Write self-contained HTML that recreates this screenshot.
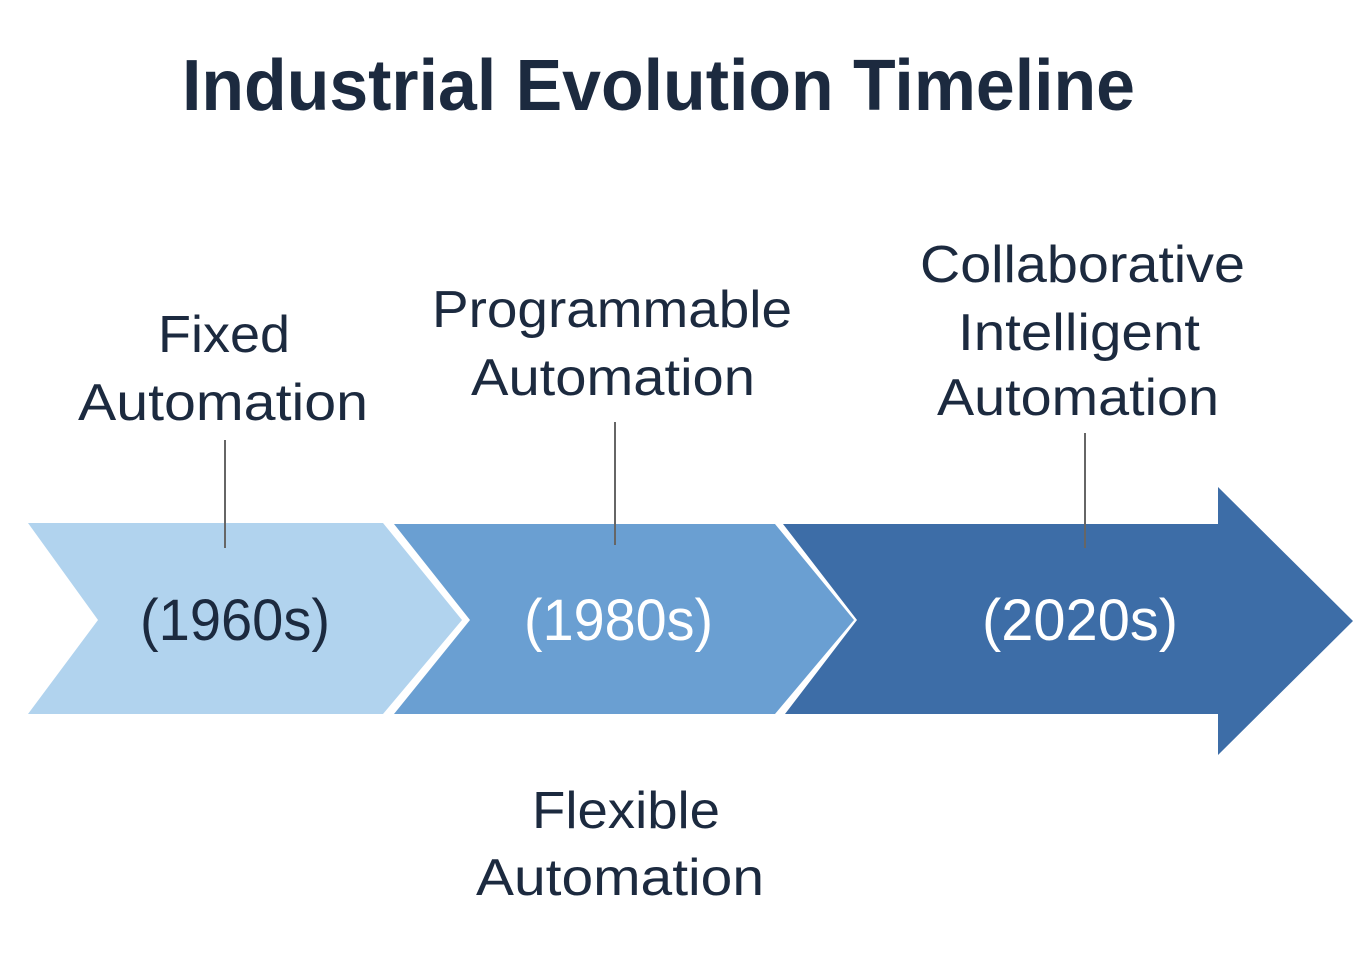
<!DOCTYPE html>
<html><head><meta charset="utf-8"><style>html,body{margin:0;padding:0;background:#fff}svg{display:block}</style></head>
<body>
<svg width="1370" height="968" viewBox="0 0 1370 968" xmlns="http://www.w3.org/2000/svg" font-family="Liberation Sans, DejaVu Sans, sans-serif">
<rect width="1370" height="968" fill="#fff"/>
<text x="182" y="110" font-size="72" font-weight="bold" fill="#1c2a3f" textLength="953" lengthAdjust="spacingAndGlyphs">Industrial Evolution Timeline</text>
<polygon points="28,523 383,523 462,620 383,714 28,714 98,620" fill="#b1d3ee"/>
<polygon points="394,524 775,524 854,620 775,714 394,714 470,620" fill="#6a9fd2"/>
<polygon points="783,524 1218,524 1218,487 1353,621 1218,755 1218,714 785,714 857,620" fill="#3d6da7"/>
<g stroke="#666" stroke-width="2">
<line x1="225" y1="440" x2="225" y2="548"/>
<line x1="615" y1="422" x2="615" y2="545"/>
<line x1="1085" y1="433" x2="1085" y2="548"/>
</g>
<g font-size="52" fill="#1c2a3f" lengthAdjust="spacingAndGlyphs">
<text x="158" y="352" textLength="132" lengthAdjust="spacingAndGlyphs">Fixed</text>
<text x="78" y="420" textLength="290" lengthAdjust="spacingAndGlyphs">Automation</text>
<text x="432" y="327" textLength="360" lengthAdjust="spacingAndGlyphs">Programmable</text>
<text x="471" y="395" textLength="284" lengthAdjust="spacingAndGlyphs">Automation</text>
<text x="920" y="282" textLength="325" lengthAdjust="spacingAndGlyphs">Collaborative</text>
<text x="958" y="350" textLength="242" lengthAdjust="spacingAndGlyphs">Intelligent</text>
<text x="937" y="415" textLength="282" lengthAdjust="spacingAndGlyphs">Automation</text>
<text x="532" y="828" textLength="188" lengthAdjust="spacingAndGlyphs">Flexible</text>
<text x="476" y="895" textLength="288" lengthAdjust="spacingAndGlyphs">Automation</text>
</g>
<g font-size="58">
<text x="140" y="640" fill="#1c2a3f" textLength="190" lengthAdjust="spacingAndGlyphs">(1960s)</text>
<text x="524" y="640" fill="#fff" textLength="189" lengthAdjust="spacingAndGlyphs">(1980s)</text>
<text x="982" y="640" fill="#fff" textLength="196" lengthAdjust="spacingAndGlyphs">(2020s)</text>
</g>
</svg>
</body></html>
